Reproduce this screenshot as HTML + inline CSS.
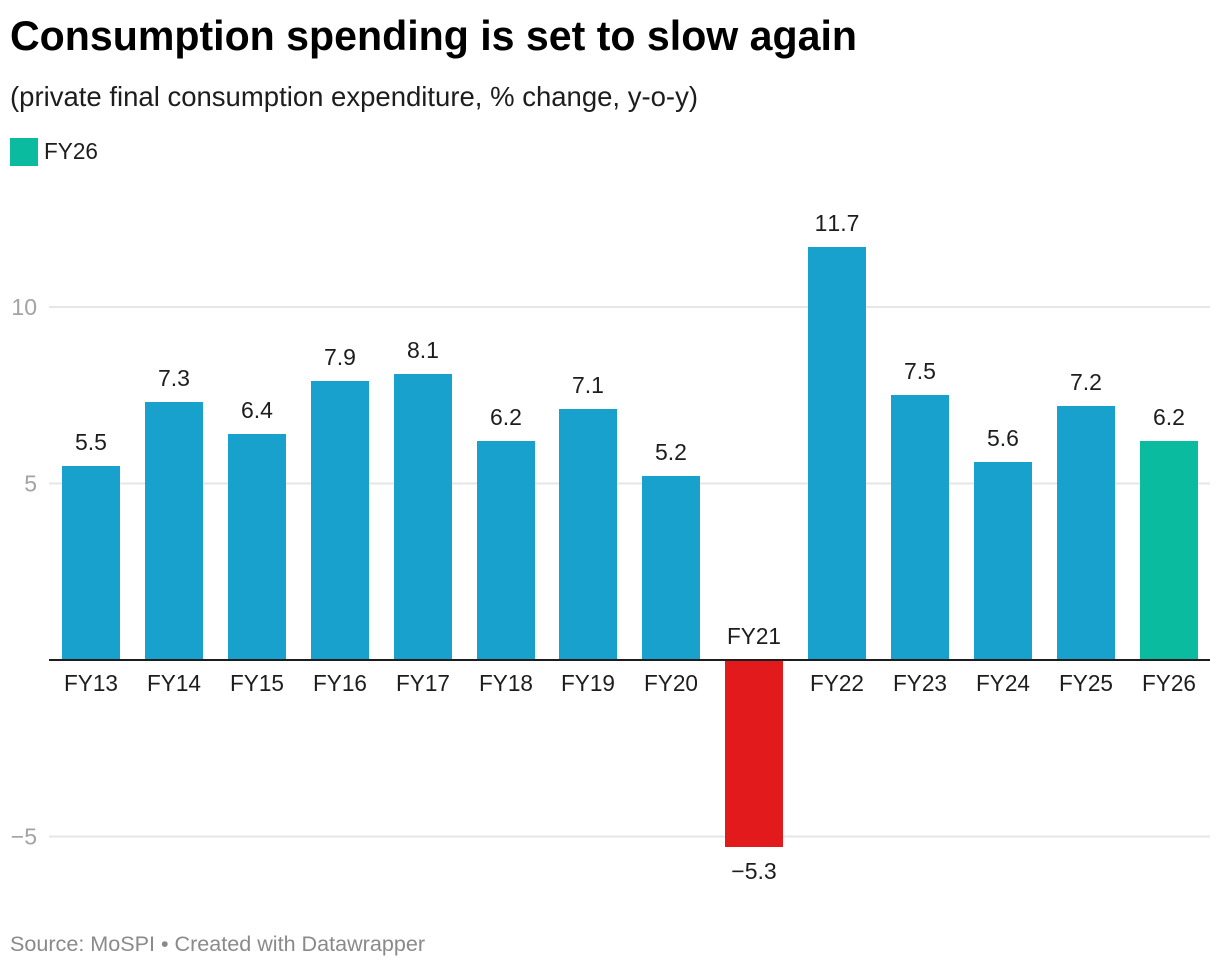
<!DOCTYPE html>
<html lang="en">
<head>
<meta charset="utf-8">
<title>Consumption spending is set to slow again</title>
<style>
html,body{margin:0;padding:0;background:#fff;width:1220px;height:968px;overflow:hidden}
svg{display:block;font-family:"Liberation Sans",sans-serif}
</style>
</head>
<body>
<svg id="chart" xmlns="http://www.w3.org/2000/svg" width="1220" height="968" viewBox="0 0 1220 968">
  <text x="10" y="50" font-size="42" font-weight="700" fill="#000" textLength="847" lengthAdjust="spacingAndGlyphs">Consumption spending is set to slow again</text>
  <text x="10" y="106" font-size="28" fill="#1d1d1d" textLength="688" lengthAdjust="spacingAndGlyphs">(private final consumption expenditure, % change, y-o-y)</text>
  <rect x="10" y="138" width="28" height="28" fill="#0abb9f"></rect>
  <text x="44" y="159" font-size="23" fill="#1d1d1d" textLength="54" lengthAdjust="spacingAndGlyphs">FY26</text>
  <g id="grid"></g>
  <g id="bars"></g>
  <g id="labels"></g>
  <text x="10" y="951" font-size="21" fill="#8a8a8a" textLength="415" lengthAdjust="spacingAndGlyphs">Source: MoSPI • Created with Datawrapper</text>
</svg>
<script>
const categories = ["FY13","FY14","FY15","FY16","FY17","FY18","FY19","FY20","FY21","FY22","FY23","FY24","FY25","FY26"];
const values = [5.5,7.3,6.4,7.9,8.1,6.2,7.1,5.2,-5.3,11.7,7.5,5.6,7.2,6.2];
const yTicks = [10,5,-5];
const highlightCategory = "FY26";

const NS = "http://www.w3.org/2000/svg";
const gridG = document.getElementById("grid");
const barsG = document.getElementById("bars");
const labelsG = document.getElementById("labels");

function yScale(v){ return 660 - v * 35.3; }
function xBand(i){ return Math.round(62.02 + i * 82.9); }
const barWidth = 58;

function fmt(v){ return (v < 0 ? "\u2212" : "") + Math.abs(v).toFixed(1); }
function tickFmt(v){ return (v < 0 ? "\u2212" : "") + Math.abs(v); }
function make(tag, attrs, parent, text){
  const el = document.createElementNS(NS, tag);
  for (const k in attrs) el.setAttribute(k, attrs[k]);
  if (text !== undefined) el.textContent = text;
  parent.appendChild(el);
  return el;
}

yTicks.forEach(function(t){
  const y = yScale(t);
  const line = make("line", {x1:49, x2:1210, y1:y, y2:y, stroke:"#e6e6e6", "stroke-width":2}, gridG);
  
  
  const label = make("text", {x:37, y:y + 8, "text-anchor":"end", "font-size":23, fill:"#a3a3a3"}, gridG, tickFmt(t));
  
  
});

categories.forEach(function(cat, i){
  const v = values[i];
  const x = xBand(i);
  const cx = x + barWidth / 2;
  const y0 = yScale(0);
  const yv = Math.round(yScale(v));
  let color = "#18a1cd";
  if (v < 0) color = "#e31a1c";
  if (cat === highlightCategory) color = "#0abb9f";

  const bar = make("rect", {x:x, y:Math.min(y0, yv), width:barWidth, height:Math.abs(yv - y0), fill:color}, barsG);
  
  

  const valueY = v < 0 ? yv + 32 : yv - 16;
  const valueLabel = make("text", {x:cx, y:valueY, "text-anchor":"middle", "font-size":23, fill:"#1d1d1d", style:"font-kerning:none"}, labelsG, fmt(v));
  
  

  const catY = v < 0 ? y0 - 16 : y0 + 31;
  const catLabel = make("text", {x:cx, y:catY, "text-anchor":"middle", "font-size":23, fill:"#1d1d1d", textLength:54, lengthAdjust:"spacingAndGlyphs"}, labelsG, cat);
  
  
});

const axis = make("line", {x1:49, x2:1210, y1:yScale(0), y2:yScale(0), stroke:"#1d1d1d", "stroke-width":2}, barsG);


</script>
</body>
</html>
